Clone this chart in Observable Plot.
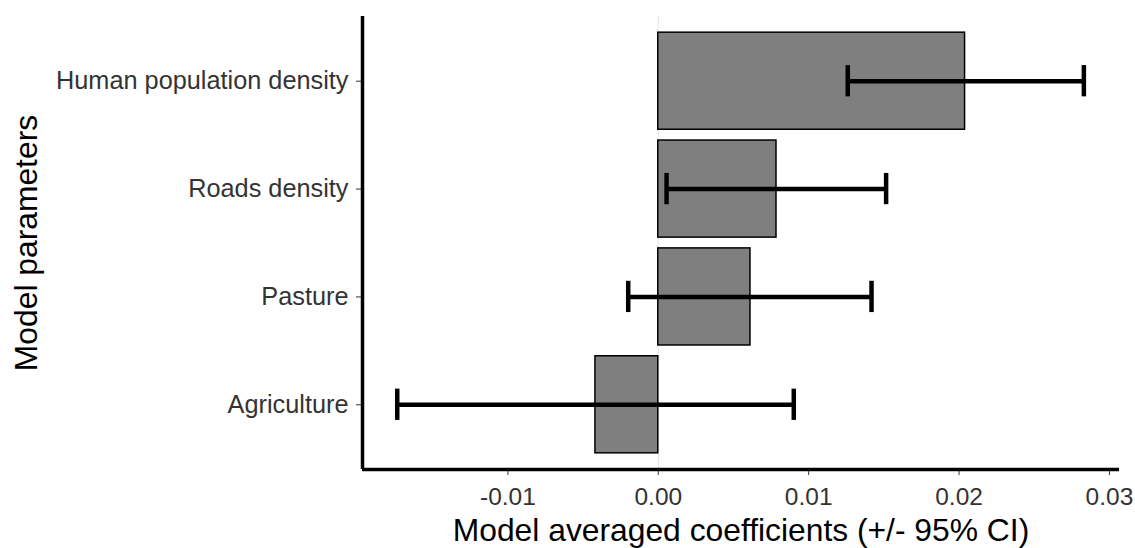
<!DOCTYPE html>
<html>
<head>
<meta charset="utf-8">
<script src="https://cdn.jsdelivr.net/npm/d3@7"></script>
<script src="https://cdn.jsdelivr.net/npm/@observablehq/plot@0.6"></script>
<style>
  html, body { margin: 0; padding: 0; background: white; }
</style>
</head>
<body>
<div id="chart"></div>
<script>
// Categories from bottom to top
const categories = ["Agriculture", "Pasture", "Roads density", "Human population density"];
const estimates = [-0.00418, 0.00613, 0.00786, 0.0204];
const lower = [-0.01736, -0.0020, 0.00055, 0.0126];
const upper = [0.00901, 0.01418, 0.01515, 0.0283];
const xTicks = [-0.01, 0.00, 0.01, 0.02, 0.03];
const xDomain = [-0.01967, 0.03067];
const yDomain = [0.4, 4.6];
const xTitle = "Model averaged coefficients (+/- 95% CI)";
const yTitle = "Model parameters";

const rows = categories.map((name, i) => ({
  name, pos: i + 1, est: estimates[i], lo: lower[i], hi: upper[i]
}));

const font = "'Liberation Sans', Arial, Helvetica, sans-serif";

const chart = Plot.plot({
  width: 1135,
  height: 548,
  marginLeft: 362,
  marginRight: 16,
  marginTop: 16,
  marginBottom: 79,
  style: { fontFamily: font, background: "white" },
  x: { domain: xDomain, label: null },
  y: { domain: yDomain, label: null },
  marks: [
    Plot.ruleX([0], { stroke: "#e4e4e4", strokeWidth: 1 }),
    Plot.rectX(rows, {
      x1: () => 0, x2: "est",
      y1: d => d.pos - 0.45, y2: d => d.pos + 0.45,
      fill: "#7f7f7f", stroke: "black", strokeWidth: 1.5
    }),
    Plot.ruleY(rows, { y: "pos", x1: "lo", x2: "hi", stroke: "black", strokeWidth: 4.5 }),
    Plot.ruleX(rows, { x: "lo", y1: d => d.pos - 0.145, y2: d => d.pos + 0.145, stroke: "black", strokeWidth: 4.5 }),
    Plot.ruleX(rows, { x: "hi", y1: d => d.pos - 0.145, y2: d => d.pos + 0.145, stroke: "black", strokeWidth: 4.5 }),
    Plot.axisX({
      ticks: xTicks, tickFormat: d => d.toFixed(2),
      tickSize: 6, tickPadding: 12, fontSize: 24.5, color: "#333", label: null
    }),
    Plot.axisY({
      ticks: rows.map(d => d.pos), tickFormat: d => categories[d - 1],
      tickSize: 6, tickPadding: 8, fontSize: 25.3, color: "#333", label: null
    }),
    Plot.ruleX([xDomain[0]], { stroke: "black", strokeWidth: 3.5 }),
    Plot.ruleY([yDomain[0]], { stroke: "black", strokeWidth: 3.5 }),
    Plot.text([xTitle], { frameAnchor: "bottom", dy: 71, fontSize: 31.8, fill: "black" }),
    Plot.text([yTitle], { frameAnchor: "left", textAnchor: "middle", rotate: -90, dx: -336, fontSize: 31.8, fill: "black" })
  ]
});

document.getElementById("chart").appendChild(chart);
</script>
</body>
</html>
